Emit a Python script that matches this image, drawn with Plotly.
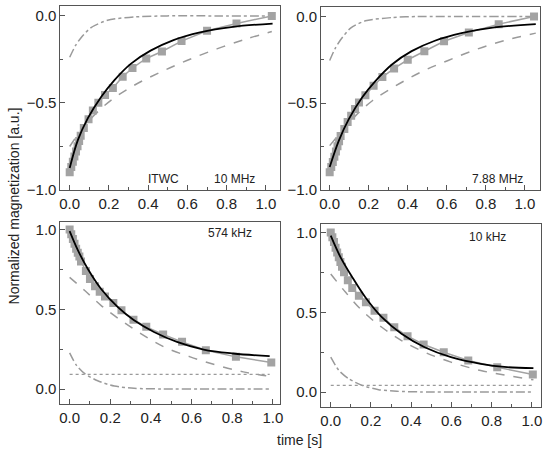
import plotly.graph_objects as go

# ---- top left: ITWC, 10 MHz ----
t_10m = [0, 0.008, 0.016, 0.024, 0.032, 0.04, 0.048, 0.056, 0.072, 0.096, 0.118, 0.146,
         0.18, 0.22, 0.27, 0.32, 0.39, 0.47, 0.57, 0.70, 0.85, 1.03]
m_10m = [-0.90, -0.87, -0.84, -0.81, -0.78, -0.75, -0.72, -0.69, -0.645, -0.595, -0.545, -0.50,
         -0.455, -0.415, -0.35, -0.30, -0.245, -0.205, -0.145, -0.086, -0.044, 0.0]
fit_t_10m = [0, 0.042, 0.092, 0.16, 0.227, 0.311, 0.412, 0.529, 0.664, 0.832, 1.034]
fit_10m = [-0.876, -0.714, -0.59, -0.467, -0.371, -0.276, -0.20, -0.139, -0.095, -0.063, -0.044]
slow_t_10m = [0, 0.059, 0.126, 0.21, 0.328, 0.462, 0.597, 0.75, 0.90, 1.03]
slow_10m = [-0.752, -0.657, -0.571, -0.486, -0.40, -0.324, -0.257, -0.19, -0.133, -0.09]
fast_t_10m = [0, 0.03, 0.059, 0.109, 0.193, 0.328, 0.496, 0.75, 1.034]
fast_10m = [-0.238, -0.17, -0.124, -0.067, -0.025, -0.006, 0.0, 0.0, 0.0]

# ---- top right: 7.88 MHz ----
t_788 = [0, 0.008, 0.016, 0.024, 0.032, 0.04, 0.048, 0.056, 0.075, 0.092, 0.11, 0.13, 0.15,
         0.183, 0.225, 0.27, 0.33, 0.40, 0.485, 0.586, 0.713, 0.866, 1.047]
m_788 = [-0.90, -0.87, -0.84, -0.81, -0.78, -0.75, -0.72, -0.69, -0.65, -0.61, -0.574, -0.535,
         -0.497, -0.455, -0.40, -0.35, -0.30, -0.25, -0.20, -0.143, -0.092, -0.044, 0.0]
fit_t_788 = [0, 0.047, 0.098, 0.166, 0.234, 0.319, 0.42, 0.539, 0.675, 0.844, 1.056]
fit_788 = [-0.87, -0.717, -0.593, -0.468, -0.373, -0.277, -0.20, -0.14, -0.096, -0.063, -0.044]
slow_t_788 = [0, 0.064, 0.132, 0.217, 0.336, 0.471, 0.607, 0.759, 0.912, 1.056]
slow_788 = [-0.746, -0.66, -0.574, -0.488, -0.402, -0.319, -0.254, -0.187, -0.134, -0.096]
fast_t_788 = [0, 0.028, 0.056, 0.107, 0.183, 0.319, 0.45, 0.75, 1.056]
fast_788 = [-0.254, -0.185, -0.134, -0.067, -0.025, -0.006, 0.0, 0.0, 0.0]

# ---- bottom left: 574 kHz ----
t_574 = [0, 0.008, 0.016, 0.024, 0.032, 0.04, 0.048, 0.056, 0.08, 0.10, 0.125, 0.148, 0.174,
         0.215, 0.255, 0.314, 0.377, 0.46, 0.553, 0.67, 0.818, 0.992]
m_574 = [1.0, 0.97, 0.94, 0.91, 0.88, 0.855, 0.83, 0.80, 0.74, 0.69, 0.645, 0.61, 0.58,
         0.54, 0.494, 0.435, 0.39, 0.342, 0.296, 0.244, 0.202, 0.167]
fit_t_574 = [0, 0.041, 0.089, 0.154, 0.236, 0.317, 0.415, 0.528, 0.659, 0.805, 0.984]
fit_574 = [0.99, 0.869, 0.754, 0.629, 0.515, 0.431, 0.358, 0.296, 0.248, 0.223, 0.206]
slow_t_574 = [0, 0.073, 0.154, 0.252, 0.35, 0.463, 0.593, 0.724, 0.854, 0.967]
slow_574 = [0.70, 0.619, 0.525, 0.431, 0.348, 0.265, 0.202, 0.15, 0.108, 0.083]
fast_t_574 = [0, 0.033, 0.073, 0.138, 0.22, 0.317, 0.45, 0.7, 0.984]
fast_574 = [0.227, 0.15, 0.098, 0.052, 0.019, 0.005, 0.001, 0.0, 0.0]
const_t_574 = [0, 0.984]
const_574 = [0.092, 0.092]

# ---- bottom right: 10 kHz ----
t_10k = [0, 0.008, 0.016, 0.024, 0.032, 0.04, 0.048, 0.056, 0.066, 0.085, 0.107, 0.14, 0.175,
         0.218, 0.262, 0.316, 0.382, 0.462, 0.562, 0.684, 0.828, 1.005]
m_10k = [1.0, 0.97, 0.94, 0.905, 0.875, 0.845, 0.815, 0.785, 0.75, 0.70, 0.652, 0.604, 0.5625,
         0.51, 0.465, 0.406, 0.35, 0.298, 0.25, 0.198, 0.156, 0.11]
fit_t_10k = [0, 0.049, 0.107, 0.172, 0.254, 0.352, 0.467, 0.598, 0.746, 0.877, 1.008]
fit_10k = [0.98, 0.844, 0.72, 0.594, 0.469, 0.365, 0.281, 0.219, 0.177, 0.156, 0.15]
slow_t_10k = [0, 0.074, 0.156, 0.254, 0.352, 0.467, 0.598, 0.746, 0.877, 1.008]
slow_10k = [0.74, 0.625, 0.51, 0.406, 0.323, 0.25, 0.1875, 0.135, 0.104, 0.077]
fast_t_10k = [0, 0.041, 0.09, 0.156, 0.238, 0.328, 0.45, 0.7, 1.008]
fast_10k = [0.219, 0.135, 0.083, 0.042, 0.015, 0.005, 0.001, 0.0, 0.0]
const_t_10k = [0, 1.008]
const_10k = [0.042, 0.042]

GREY = '#a3a3a3'
LINE_GREY = '#9a9a9a'
FRAME = '#555555'
FONT = 'Liberation Sans, Arial, sans-serif'
W, H = 550, 459

panels = [
    dict(data=(t_10m, m_10m), fit=(fit_t_10m, fit_10m), slow=(slow_t_10m, slow_10m),
         fast=(fast_t_10m, fast_10m), const=None,
         xdom=[0.1073, 0.5109], ydom=[0.5809, 0.9889],
         xr=[-0.047, 1.074], yr=[-1.0, 0.057]),
    dict(data=(t_788, m_788), fit=(fit_t_788, fit_788), slow=(slow_t_788, slow_788),
         fast=(fast_t_788, fast_788), const=None,
         xdom=[0.5855, 0.9873], ydom=[0.5809, 0.9867],
         xr=[-0.044, 1.078], yr=[-1.0, 0.055]),
    dict(data=(t_574, m_574), fit=(fit_t_574, fit_574), slow=(slow_t_574, slow_574),
         fast=(fast_t_574, fast_574), const=(const_t_574, const_574),
         xdom=[0.1073, 0.5109], ydom=[0.1042, 0.51],
         xr=[-0.045, 1.037], yr=[-0.094, 1.05]),
    dict(data=(t_10k, m_10k), fit=(fit_t_10k, fit_10k), slow=(slow_t_10k, slow_10k),
         fast=(fast_t_10k, fast_10k), const=(const_t_10k, const_10k),
         xdom=[0.5855, 0.9891], ydom=[0.0976, 0.5055],
         xr=[-0.048, 1.046], yr=[-0.094, 1.056]),
]

fig = go.Figure()
layout = {}
for i, p in enumerate(panels):
    n = '' if i == 0 else str(i + 1)
    xa, ya = 'x' + n, 'y' + n
    ax = dict(xaxis=xa, yaxis=ya, showlegend=False, hoverinfo='skip')
    fig.add_trace(go.Scatter(x=p['slow'][0], y=p['slow'][1], mode='lines', line_shape='spline',
                             line=dict(color=LINE_GREY, width=1.5, dash='dash'), **ax))
    fig.add_trace(go.Scatter(x=p['fast'][0], y=p['fast'][1], mode='lines',
                             line=dict(color=LINE_GREY, width=1.5, dash='dashdot',
                                       shape='spline', smoothing=0.7), **ax))
    if p['const'] is not None:
        fig.add_trace(go.Scatter(x=p['const'][0], y=p['const'][1], mode='lines',
                                 line=dict(color=LINE_GREY, width=1.3, dash='dot'), **ax))
    fig.add_trace(go.Scatter(x=p['data'][0], y=p['data'][1], mode='lines+markers',
                             line=dict(color=GREY, width=1.5),
                             marker=dict(symbol='square', size=8, color=GREY), **ax))
    fig.add_trace(go.Scatter(x=p['fit'][0], y=p['fit'][1], mode='lines', line_shape='spline',
                             line=dict(color='black', width=1.8), **ax))
    common = dict(showline=True, mirror=True, linecolor=FRAME, linewidth=1,
                  ticks='inside', ticklen=5, tickcolor=FRAME, showgrid=False, zeroline=False,
                  tickfont=dict(size=15, color='#222', family=FONT), tickformat='.1f')
    layout['xaxis' + n] = dict(domain=p['xdom'], range=p['xr'], anchor=ya, dtick=0.2, tick0=0,
                               minor=dict(ticks='inside', ticklen=3, dtick=0.1, tickcolor=FRAME),
                               **common)
    layout['yaxis' + n] = dict(domain=p['ydom'], range=p['yr'], anchor=xa, dtick=0.5, tick0=0,
                               minor=dict(ticks='inside', ticklen=3, dtick=0.25, tickcolor=FRAME),
                               **common)

labels = [('ITWC', 163, 178), ('10 MHz', 235, 178), ('7.88 MHz', 500, 178),
          ('574 kHz', 230, 233), ('10 kHz', 490, 237)]
annotations = [dict(text=s, x=px / 550, y=1 - py / 451, xref='paper', yref='paper',
                    xanchor='center', yanchor='middle',
                    showarrow=False, font=dict(size=12, color='#222', family=FONT))
               for s, px, py in labels]
annotations.append(dict(text='Normalized magnetization [a.u.]', x=12 / 550, y=1 - 205 / 451,
                        xref='paper', yref='paper', textangle=-90, showarrow=False,
                        xanchor='center', yanchor='middle',
                        font=dict(size=14, color='#222', family=FONT)))
annotations.append(dict(text='time [s]', x=300 / 550, y=1 - 440 / 451, xref='paper',
                        yref='paper', showarrow=False, xanchor='center', yanchor='middle',
                        font=dict(size=14, color='#222', family=FONT)))

fig.update_layout(width=W, height=H, margin=dict(l=0, r=0, t=0, b=0),
                  plot_bgcolor='white', paper_bgcolor='white',
                  annotations=annotations, **layout)

pin = ("document.body.style.margin='0';"
       "var d=document.getElementById('{plot_id}');"
       "d.style.position='absolute';d.style.top='0';d.style.left='0';")
fig.write_html("out.html", config={'displayModeBar': False}, post_script=pin)
